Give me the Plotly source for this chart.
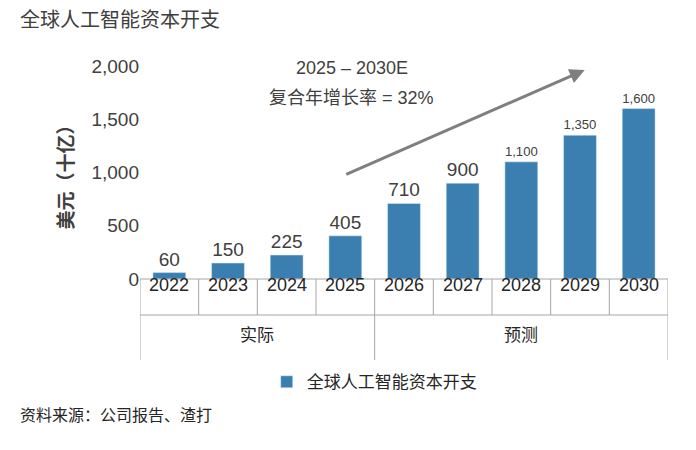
import plotly.graph_objects as go

years = ["2022","2023","2024","2025","2026","2027","2028","2029","2030"]
capex = [60,150,225,405,710,900,1100,1350,1600]
groups = [("实际",0,3),("预测",4,8)]
series_name = "全球人工智能资本开支"

F = "Liberation Sans, Noto Sans CJK SC"
fig = go.Figure(go.Bar(x=list(range(len(years))), y=capex, name=series_name,
    marker_color="#3a7fb0", width=0.56, text=[f"{v:,}" for v in capex],
    textposition="outside", textfont=dict(size=19, color="#404040"), cliponaxis=False))

PH = 213
PW = 528
L, T = 132, 58
def py(px): return -px/PH
shapes = []
line = dict(color="#a6a6a6", width=1)
shapes.append(dict(type="line", xref="x", yref="paper", x0=-0.5, x1=8.5, y0=0, y1=0, line=line))
shapes.append(dict(type="line", xref="x", yref="paper", x0=-0.5, x1=8.5, y0=py(36), y1=py(36), line=line))
for i in range(len(years)+1):
    bottom = py(81) if i in (0,4,9) else py(36)
    shapes.append(dict(type="line", xref="x", yref="paper", x0=i-0.5, x1=i-0.5, y0=0, y1=bottom, line=line))
ann = []
for i,y in enumerate(years):
    ann.append(dict(x=i, y=py(18), xref="x", yref="paper", text=y, showarrow=False,
                    font=dict(size=18, color="#262626")))
for name,a,b in groups:
    ann.append(dict(x=(a+b)/2, y=py(68), xref="x", yref="paper", text=name, showarrow=False,
                    font=dict(size=17, color="#262626")))
ann.append(dict(x=7.08, y=1962, ax=2.99, ay=977, xref="x", yref="y", axref="x", ayref="y",
                text="", showarrow=True, arrowhead=2, arrowsize=1, arrowwidth=3, arrowcolor="#7f7f7f"))
ann.append(dict(x=3.11, y=1981, xref="x", yref="y", text="2025 – 2030E", showarrow=False,
                font=dict(size=18, color="#404040")))
ann.append(dict(x=3.11, y=1700, xref="x", yref="y", text="复合年增长率 = 32%", showarrow=False,
                font=dict(size=18, color="#404040")))
ann.append(dict(x=(10-L)/PW, y=1+(T-12)/PH, xref="paper", yref="paper", text="全球人工智能资本开支",
                showarrow=False, xanchor="left", yanchor="middle", font=dict(size=20, color="#404040")))
ann.append(dict(x=(10-L)/PW, y=-(407-(T+PH))/PH, xref="paper", yref="paper", text="资料来源：公司报告、渣打",
                showarrow=False, xanchor="left", yanchor="middle", font=dict(size=16, color="#262626")))

fig.update_layout(
    width=696, height=450, margin=dict(l=L, r=696-L-PW, t=T, b=450-T-PH),
    plot_bgcolor="white", paper_bgcolor="white", font=dict(family=F),
    shapes=shapes, annotations=ann,
    xaxis=dict(range=[-0.5,8.5], showticklabels=False, showgrid=False, zeroline=False, fixedrange=True),
    yaxis=dict(range=[0,2000], dtick=500, tickformat=",", showgrid=False, zeroline=False,
               tickfont=dict(size=19, color="#404040"), ticks="", showline=False,
               title=dict(text="<b>美元（十亿）</b>", font=dict(size=19, color="#404040"), standoff=12)),
    showlegend=True,
    legend=dict(orientation="h", x=0.24, y=-0.40, xanchor="left", yanchor="top",
                font=dict(size=17, color="#262626")),
)
fig.write_html("out.html")
